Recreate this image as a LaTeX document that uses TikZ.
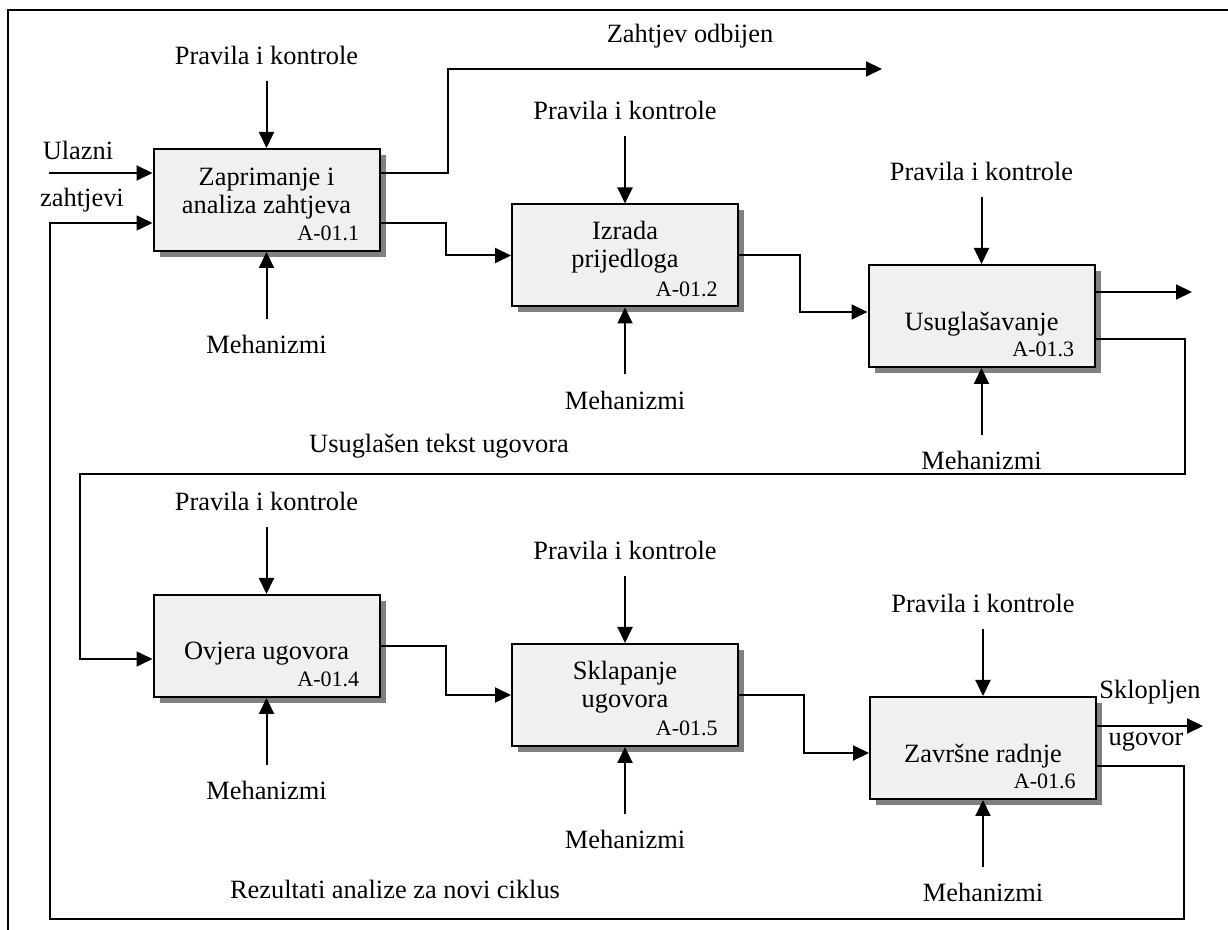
\documentclass[tikz,border=0pt]{standalone}
\usepackage{fontspec}
\setmainfont{Liberation Serif}
\usetikzlibrary{arrows.meta,positioning,shadows}
\definecolor{boxfill}{RGB}{240,240,240}
\definecolor{shadowgray}{RGB}{128,128,128}

\begin{document}
\begin{tikzpicture}[x=0.5pt, y=-0.5pt, >={Triangle[length=8pt,width=7.5pt]},
  font=\fontsize{13.2}{14}\selectfont, node distance=33.5pt,
  proc/.style={draw, line width=1pt, fill=boxfill, minimum width=113pt, minimum height=51pt,
    drop shadow={shadow xshift=3pt, shadow yshift=-3pt, fill=shadowgray, opacity=1}},
  ptext/.style={align=center, inner sep=0pt},
  pid/.style={font=\fontsize{11}{12}\selectfont, inner sep=0pt, anchor=base east},
  icom/.style={inner xsep=2pt, inner ysep=8pt},
  flow/.style={->, line width=1pt},
  fb/.style={->, line width=0.8pt}]
\useasboundingbox (0,0) rectangle (1228,930);
\draw[line width=1pt] (8,930) -- (8,10) -- (1228,10);

\node[proc] (b1) at (266.5,200) {};
\node[proc] (b2) at (625,255.5) {};
\node[proc] (b3) at (981.5,316) {};
\node[proc] (b4) at (266.5,646) {};
\node[proc] (b5) at (625,695) {};
\node[proc] (b6) at (983,748) {};

\node[ptext, yshift=3pt] (t1) at (b1) {Zaprimanje i\\analiza zahtjeva};
\node[ptext, yshift=4pt] (t2) at (b2) {Izrada\\prijedloga};
\node[ptext, yshift=-4pt] (t3) at (b3) {Usuglašavanje};
\node[ptext, yshift=-4pt] (t4) at (b4) {Ovjera ugovora};
\node[ptext, yshift=4pt] (t5) at (b5) {Sklapanje\\ugovora};
\node[ptext, yshift=-4pt] (t6) at (b6) {Završne radnje};

\foreach \i in {1,...,6} {
  \node[pid] (id\i) at ([shift={(-21,-11)}]b\i.south east) {A-01.\i};
  \node[icom, above=of b\i] (c\i) {Pravila i kontrole};
  \node[icom, below=of b\i] (m\i) {Mehanizmi};
  \draw[flow] (c\i) -- (b\i);
  \draw[flow] (m\i) -- (b\i);
}

\coordinate (in1) at (49,173);
\draw[flow] (in1) -- (in1 -| b1.west);
\node (ul) at (78,150) {Ulazni};
\node (zh) at (82,200) {zahtjevi};

\coordinate (rej) at (882,69);
\draw[flow] (b1.east |- in1) -- (448,173) |- (rej);
\node (rejl) at (690,36) {Zahtjev odbijen};

\draw[flow] ([yshift=-11.5pt]b1.east) -- (446,223) |- (b2.west);
\draw[flow] (b2.east) -- (800,255.5) |- ([yshift=2pt]b3.west);

\coordinate (out3) at (1192,292);
\draw[flow] (b3.east |- out3) -- (out3);
\draw[fb] ([yshift=-11.5pt]b3.east) -- (1185,339) -- (1185,474) -- (80,474) |- ([yshift=-6.5pt]b4.west);
\node (usg) at (439,446) {Usuglašen tekst ugovora};

\draw[flow] (b4.east) -- (446,646) |- (b5.west);
\draw[flow] (b5.east) -- (804,695) |- ([yshift=-2.5pt]b6.west);

\coordinate (out6) at (1203,726);
\draw[flow] (b6.east |- out6) -- (out6);
\node (skl) at (1150,692) {Sklopljen};
\node (ugv) at (1146,742) {ugovor};

\draw[fb] ([yshift=-9pt]b6.east) -- (1184,766) -- (1184,919) -- (50,919) |- ([yshift=-11.5pt]b1.west);
\node (rez) at (395,889) {Rezultati analize za novi ciklus};
\end{tikzpicture}
\end{document}
